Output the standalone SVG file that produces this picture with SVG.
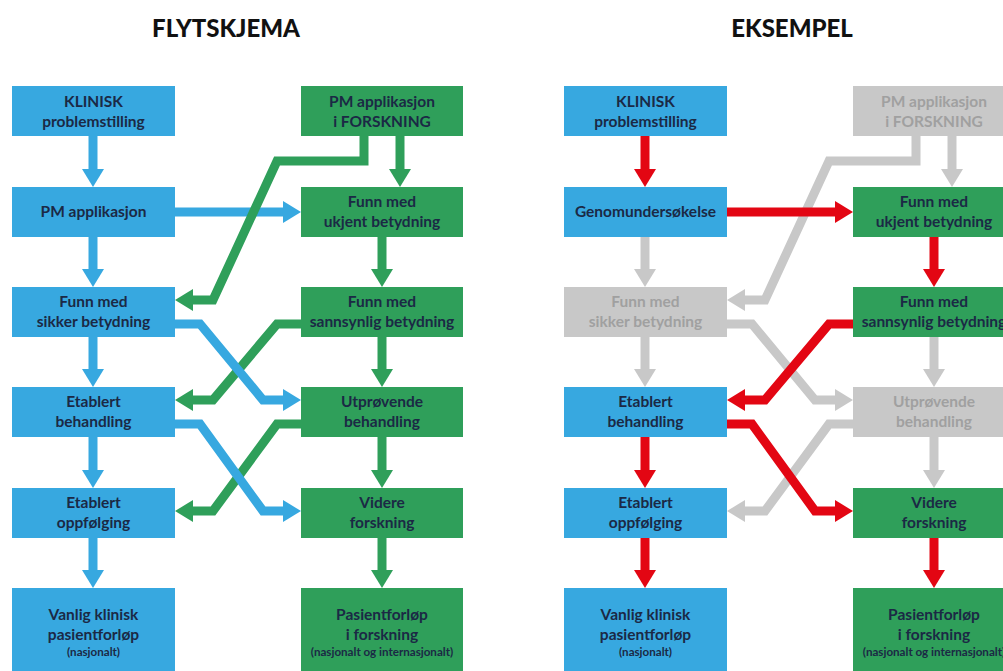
<svg xmlns="http://www.w3.org/2000/svg" width="1003" height="671" viewBox="0 0 1003 671">
<style>
.t{font-family:Lato,"Liberation Sans",sans-serif;font-weight:bold;font-size:15.5px;fill:#1b2945;text-anchor:middle}
.s{font-size:11.6px}
.h{font-family:Lato,"Liberation Sans",sans-serif;font-weight:900;font-size:24px;fill:#111;text-anchor:middle}
.gt{fill:#a0a0a0}
.bb{fill:#37a8e0}
.gb{fill:#2f9f5a}
.xb{fill:#c8c8c8}
.c{fill:none;stroke-width:9;stroke-linejoin:miter}
.cb{stroke:#37a8e0}
.cg{stroke:#2f9f5a}
.cr{stroke:#e30613}
.cx{stroke:#c8c8c8}
</style>
<defs>
<marker id="aB" markerUnits="userSpaceOnUse" markerWidth="18" markerHeight="22" refX="0" refY="11" orient="auto" overflow="visible"><path d="M0,0 L18,11 L0,22 z" fill="#37a8e0"/></marker>
<marker id="aG" markerUnits="userSpaceOnUse" markerWidth="18" markerHeight="22" refX="0" refY="11" orient="auto" overflow="visible"><path d="M0,0 L18,11 L0,22 z" fill="#2f9f5a"/></marker>
<marker id="aR" markerUnits="userSpaceOnUse" markerWidth="18" markerHeight="22" refX="0" refY="11" orient="auto" overflow="visible"><path d="M0,0 L18,11 L0,22 z" fill="#e30613"/></marker>
<marker id="aX" markerUnits="userSpaceOnUse" markerWidth="18" markerHeight="22" refX="0" refY="11" orient="auto" overflow="visible"><path d="M0,0 L18,11 L0,22 z" fill="#c8c8c8"/></marker>
</defs>
<rect width="1003" height="671" fill="#fff"/>
<text class="h" x="226" y="37">FLYTSKJEMA</text>
<text class="h" x="792" y="37">EKSEMPEL</text>

<!-- LEFT PANEL -->
<g id="left-connectors">
<path class="c cg" d="M400,136 V169" marker-end="url(#aG)"/>
<path class="c cg" d="M382,237 V269" marker-end="url(#aG)"/>
<path class="c cg" d="M382,337 V369" marker-end="url(#aG)"/>
<path class="c cg" d="M382,437 V470" marker-end="url(#aG)"/>
<path class="c cg" d="M382,538 V570" marker-end="url(#aG)"/>
<path class="c cb" d="M93,136 V169" marker-end="url(#aB)"/>
<path class="c cb" d="M93,237 V269" marker-end="url(#aB)"/>
<path class="c cb" d="M93,337 V369" marker-end="url(#aB)"/>
<path class="c cb" d="M93,437 V470" marker-end="url(#aB)"/>
<path class="c cb" d="M93,538 V570" marker-end="url(#aB)"/>
<path class="c cb" d="M175,212 H283" marker-end="url(#aB)"/>
<path class="c cg" d="M364,136 V161 H277 L213,300 H193" marker-end="url(#aG)"/>
<path class="c cg" d="M301,324 H277 L213,400 H193" marker-end="url(#aG)"/>
<path class="c cg" d="M301,424 H277 L213,511 H193" marker-end="url(#aG)"/>
<path class="c cb" d="M175,324 H200 L263,400 H283" marker-end="url(#aB)"/>
<path class="c cb" d="M175,424 H200 L263,511 H283" marker-end="url(#aB)"/>
</g>
<g id="L-klinisk"><rect class="bb" x="12" y="86" width="163" height="50"/><text class="t" x="93.5" y="107">KLINISK</text><text class="t" x="93.5" y="127">problemstilling</text></g>
<g id="L-pm"><rect class="bb" x="12" y="187" width="163" height="50"/><text class="t" x="93.5" y="217">PM applikasjon</text></g>
<g id="L-sikker"><rect class="bb" x="12" y="287" width="163" height="50"/><text class="t" x="93.5" y="307">Funn med</text><text class="t" x="93.5" y="327">sikker betydning</text></g>
<g id="L-etabl-beh"><rect class="bb" x="12" y="387" width="163" height="50"/><text class="t" x="93.5" y="407">Etablert</text><text class="t" x="93.5" y="427">behandling</text></g>
<g id="L-etabl-opp"><rect class="bb" x="12" y="488" width="163" height="50"/><text class="t" x="93.5" y="508">Etablert</text><text class="t" x="93.5" y="528">oppfølging</text></g>
<g id="L-vanlig"><rect class="bb" x="12" y="588" width="163" height="83"/><text class="t" x="93.5" y="620">Vanlig klinisk</text><text class="t" x="93.5" y="640">pasientforløp</text><text class="t s" x="93.5" y="656">(nasjonalt)</text></g>
<g id="L-pmforsk"><rect class="gb" x="301" y="86" width="162" height="50"/><text class="t" x="382" y="107">PM applikasjon</text><text class="t" x="382" y="127">i FORSKNING</text></g>
<g id="L-ukjent"><rect class="gb" x="301" y="187" width="162" height="50"/><text class="t" x="382" y="207">Funn med</text><text class="t" x="382" y="227">ukjent betydning</text></g>
<g id="L-sannsynlig"><rect class="gb" x="301" y="287" width="162" height="50"/><text class="t" x="382" y="307">Funn med</text><text class="t" x="382" y="327">sannsynlig betydning</text></g>
<g id="L-utprovende"><rect class="gb" x="301" y="387" width="162" height="50"/><text class="t" x="382" y="407">Utprøvende</text><text class="t" x="382" y="427">behandling</text></g>
<g id="L-videre"><rect class="gb" x="301" y="488" width="162" height="50"/><text class="t" x="382" y="508">Videre</text><text class="t" x="382" y="528">forskning</text></g>
<g id="L-pasient"><rect class="gb" x="301" y="588" width="162" height="83"/><text class="t" x="382" y="620">Pasientforløp</text><text class="t" x="382" y="640">i forskning</text><text class="t s" x="382" y="656">(nasjonalt og internasjonalt)</text></g>

<!-- RIGHT PANEL -->
<g transform="translate(552,0)">
<g id="right-connectors">
<path class="c cx" d="M400,136 V169" marker-end="url(#aX)"/>
<path class="c cx" d="M382,337 V369" marker-end="url(#aX)"/>
<path class="c cx" d="M382,437 V470" marker-end="url(#aX)"/>
<path class="c cx" d="M93,237 V269" marker-end="url(#aX)"/>
<path class="c cx" d="M93,337 V369" marker-end="url(#aX)"/>
<path class="c cx" d="M364,136 V161 H277 L213,300 H193" marker-end="url(#aX)"/>
<path class="c cx" d="M175,324 H200 L263,400 H283" marker-end="url(#aX)"/>
<path class="c cx" d="M301,424 H277 L213,511 H193" marker-end="url(#aX)"/>
<path class="c cr" d="M93,136 V169" marker-end="url(#aR)"/>
<path class="c cr" d="M175,212 H283" marker-end="url(#aR)"/>
<path class="c cr" d="M382,237 V269" marker-end="url(#aR)"/>
<path class="c cr" d="M301,324 H277 L213,400 H193" marker-end="url(#aR)"/>
<path class="c cr" d="M93,437 V470" marker-end="url(#aR)"/>
<path class="c cr" d="M175,424 H200 L263,511 H283" marker-end="url(#aR)"/>
<path class="c cr" d="M93,538 V570" marker-end="url(#aR)"/>
<path class="c cr" d="M382,538 V570" marker-end="url(#aR)"/>
</g>
<g id="R-klinisk"><rect class="bb" x="12" y="86" width="163" height="50"/><text class="t" x="93.5" y="107">KLINISK</text><text class="t" x="93.5" y="127">problemstilling</text></g>
<g id="R-genom"><rect class="bb" x="12" y="187" width="163" height="50"/><text class="t" x="93.5" y="217">Genomundersøkelse</text></g>
<g id="R-sikker"><rect class="xb" x="12" y="287" width="163" height="50"/><text class="t gt" x="93.5" y="307">Funn med</text><text class="t gt" x="93.5" y="327">sikker betydning</text></g>
<g id="R-etabl-beh"><rect class="bb" x="12" y="387" width="163" height="50"/><text class="t" x="93.5" y="407">Etablert</text><text class="t" x="93.5" y="427">behandling</text></g>
<g id="R-etabl-opp"><rect class="bb" x="12" y="488" width="163" height="50"/><text class="t" x="93.5" y="508">Etablert</text><text class="t" x="93.5" y="528">oppfølging</text></g>
<g id="R-vanlig"><rect class="bb" x="12" y="588" width="163" height="83"/><text class="t" x="93.5" y="620">Vanlig klinisk</text><text class="t" x="93.5" y="640">pasientforløp</text><text class="t s" x="93.5" y="656">(nasjonalt)</text></g>
<g id="R-pmforsk"><rect class="xb" x="301" y="86" width="162" height="50"/><text class="t gt" x="382" y="107">PM applikasjon</text><text class="t gt" x="382" y="127">i FORSKNING</text></g>
<g id="R-ukjent"><rect class="gb" x="301" y="187" width="162" height="50"/><text class="t" x="382" y="207">Funn med</text><text class="t" x="382" y="227">ukjent betydning</text></g>
<g id="R-sannsynlig"><rect class="gb" x="301" y="287" width="162" height="50"/><text class="t" x="382" y="307">Funn med</text><text class="t" x="382" y="327">sannsynlig betydning</text></g>
<g id="R-utprovende"><rect class="xb" x="301" y="387" width="162" height="50"/><text class="t gt" x="382" y="407">Utprøvende</text><text class="t gt" x="382" y="427">behandling</text></g>
<g id="R-videre"><rect class="gb" x="301" y="488" width="162" height="50"/><text class="t" x="382" y="508">Videre</text><text class="t" x="382" y="528">forskning</text></g>
<g id="R-pasient"><rect class="gb" x="301" y="588" width="162" height="83"/><text class="t" x="382" y="620">Pasientforløp</text><text class="t" x="382" y="640">i forskning</text><text class="t s" x="382" y="656">(nasjonalt og internasjonalt)</text></g>
</g>
</svg>
